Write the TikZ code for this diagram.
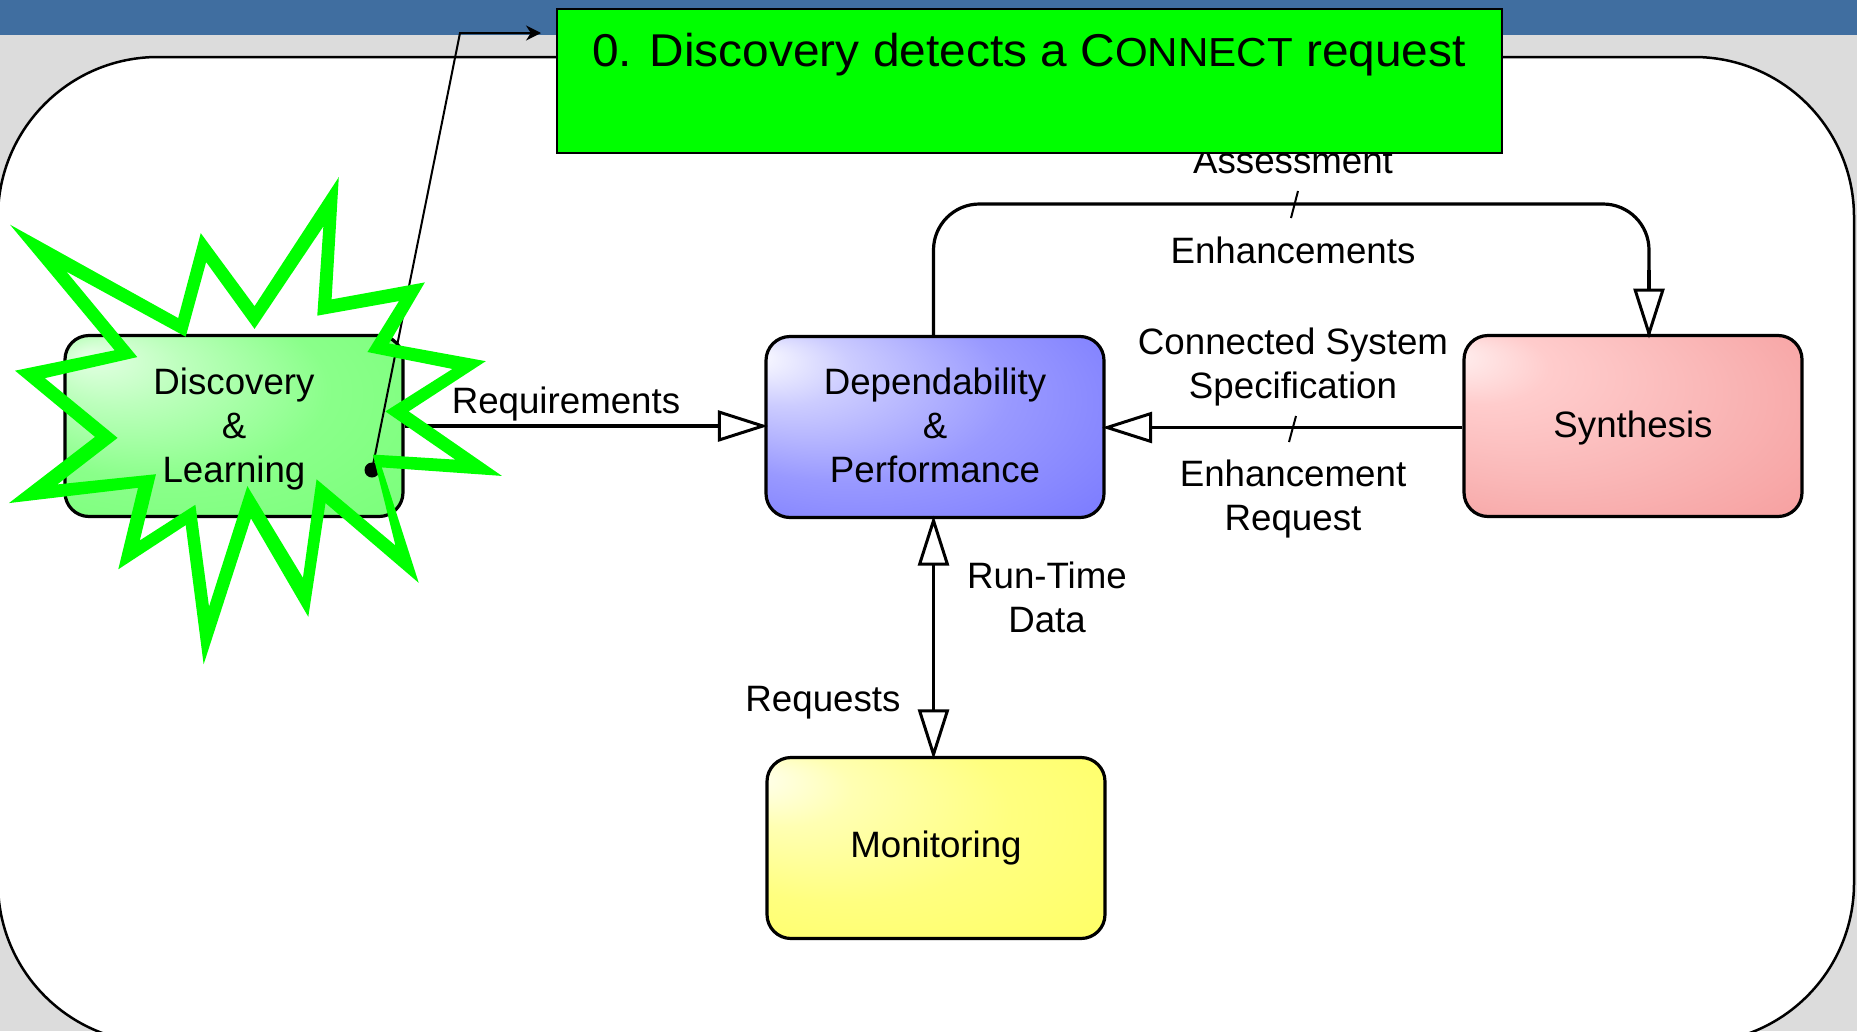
\documentclass[tikz,border=0pt]{standalone}
\usepackage{fontspec}
\setmainfont{Liberation Sans}
\newfontfamily\topfont[FakeStretch=1.04]{Liberation Sans}
\usetikzlibrary{arrows.meta}
\definecolor{bandblue}{HTML}{406EA0}
\definecolor{pagegray}{HTML}{DCDCDC}
\definecolor{pure}{HTML}{00FF00}
\pgfdeclareradialshading{shDisc}{\pgfpoint{-22bp}{20bp}}{rgb(0bp)=(0.9,1,0.9); rgb(10bp)=(0.74,1,0.74); rgb(25bp)=(0.54,1,0.54); rgb(50bp)=(0.45,1,0.45)}
\pgfdeclareradialshading{shDep}{\pgfpoint{-28bp}{20bp}}{rgb(0bp)=(1,1,1); rgb(10bp)=(0.8,0.8,1); rgb(25bp)=(0.6,0.6,1); rgb(50bp)=(0.42,0.42,1)}
\pgfdeclareradialshading{shMon}{\pgfpoint{-28bp}{20bp}}{rgb(0bp)=(1,1,0.95); rgb(10bp)=(1,1,0.7); rgb(25bp)=(1,1,0.5); rgb(50bp)=(1,1,0.35)}
\pgfdeclareradialshading{shSyn}{\pgfpoint{-28bp}{20bp}}{rgb(0bp)=(1,0.95,0.95); rgb(10bp)=(1,0.8,0.8); rgb(25bp)=(0.98,0.72,0.72); rgb(50bp)=(0.96,0.58,0.58)}
\tikzset{
  stagebox/.style={draw=black,line width=3.2pt,rounded corners=24pt,minimum width=338pt,minimum height=181pt,
    inner sep=0pt,align=center,font=\fontsize{36.7}{44}\selectfont,shade},
  flowlabel/.style={align=center,inner sep=0pt,font=\fontsize{36.7}{44}\selectfont},
  flow/.style={draw=black,line width=3.2pt},
  hollowend/.style={-{Triangle[length=50pt,width=31pt,fill=white,line width=3pt]},shorten >=-3.5pt},
  slashmark/.style={draw=black,line width=2pt},
  callout/.style={draw=black,line width=2pt,-{Stealth[length=15pt,width=15pt]}},
}
\begin{document}
\begin{tikzpicture}[x=1pt,y=-1pt]
\useasboundingbox (0,0) rectangle (1857,1031);
\clip (0,0) rectangle (1857,1031);
% page
\fill[pagegray] (0,0) rectangle (1857,1031);
\fill[bandblue] (0,0) rectangle (1857,35);
\draw[black,line width=2.5pt,fill=white,rounded corners=160pt] (-2,57) rectangle (1854,1043);
% stages
\node[stagebox,shading=shDisc] (disc) at (234,426) {\rule{0pt}{32pt}Discovery\\\&\\Learning};
\node[stagebox,shading=shDep] (dep) at (935,427) {Dependability\\\&\\Performance\rule[-3pt]{0pt}{0pt}};
\node[stagebox,shading=shSyn] (syn) at (1633,426) {\rule{0pt}{31pt}Synthesis};
\node[stagebox,shading=shMon] (mon) at (936,848) {Monitoring};
% connectors
\coordinate (depS) at ([xshift=-1.5pt]dep.south);
\coordinate (depN) at ([xshift=-1.5pt]dep.north);
\coordinate (synW) at ([yshift=-1.5pt]syn.west);
\draw[flow,hollowend] (disc.east) -- (dep.west |- disc.east);
\draw[flow,hollowend] (synW) -- (dep.east |- synW);
\draw[flow,hollowend] (depS |- mon.north) ++(0,-100) -- (depS);
\draw[flow,hollowend] (depS) ++(0,100) -- (depS |- mon.north);
\coordinate (railL) at (depN |- 0,204);
\coordinate (synTop) at (1649,335);
\coordinate (railR) at (synTop |- railL);
\draw[flow,rounded corners=46pt] (depN) -- (railL) -- (railR) -- (synTop);
\draw[flow,hollowend] (1649,270) -- (synTop);
% tick marks
\coordinate (tA) at (1298,191); \coordinate (tB) at (1291,218);
\draw[slashmark] (tA) -- (tB);
\coordinate (tC) at (1296,416); \coordinate (tD) at (1289,442);
\draw[slashmark] (tC) -- (tD);
% labels
\node[flowlabel] (lreq) at (566,404.5) {Requirements};
\node[flowlabel] (lass) at (1293,161) {Assessment};
\node[flowlabel] (lenh) at (1293,250) {Enhancements};
\node[flowlabel] (lcss) at (1293,367.5) {Connected System\\Specification};
\node[flowlabel] (ler) at (1293,499) {Enhancement\\Request};
\node[flowlabel] (lrtd) at (1047,597) {Run-Time\\Data};
\node[flowlabel] (lrq) at (823,702.5) {Requests};
% title box
\node[draw=black,line width=2.5pt,fill=pure,minimum width=945pt,minimum height=144pt,inner sep=0pt] (title) at (1029.5,81) {};
\node[anchor=base west,inner sep=0pt,font=\topfont\fontsize{46}{50}\selectfont] (titletext) at (592,66) {0. Discovery detects a C{\fontsize{40.5}{44}\selectfont ONNECT} request};
% callout
\node[circle,fill=black,inner sep=0pt,minimum size=15pt] (dot) at (372,470) {};
\coordinate (bend) at (460,33);
\coordinate (calloutEnd) at (541,33);
\draw[callout] (dot.center) -- (bend) -- (calloutEnd);
% star
\begin{scope}[x=0.3585pt,y=-0.3395pt,shift={(0pt,-150pt)}]
\fill[pure,even odd rule]
 (28,220) -- (497,495) -- (560,245) -- (710,460) -- (945,80) -- (925,440) -- (1185,390) -- (1085,570)
 -- (1355,622) -- (1140,770) -- (1400,960) -- (1065,935) -- (1168,1275) -- (908,1040) -- (860,1375)
 -- (700,1085) -- (568,1515) -- (518,1105) -- (330,1235) -- (385,995) -- (25,1040) -- (265,845)
 -- (42,650) -- (320,590) -- cycle
 (185,358) -- (518,550) -- (575,330) -- (710,527) -- (902,225) -- (885,488) -- (1113,445) -- (1025,595)
 -- (1262,645) -- (1075,770) -- (1270,912) -- (1040,897) -- (1103,1165) -- (883,970) -- (845,1260)
 -- (690,990) -- (583,1345) -- (545,1045) -- (390,1150) -- (435,955) -- (160,985) -- (328,848)
 -- (125,672) -- (383,610) -- cycle;
\end{scope}
\end{tikzpicture}
\end{document}
